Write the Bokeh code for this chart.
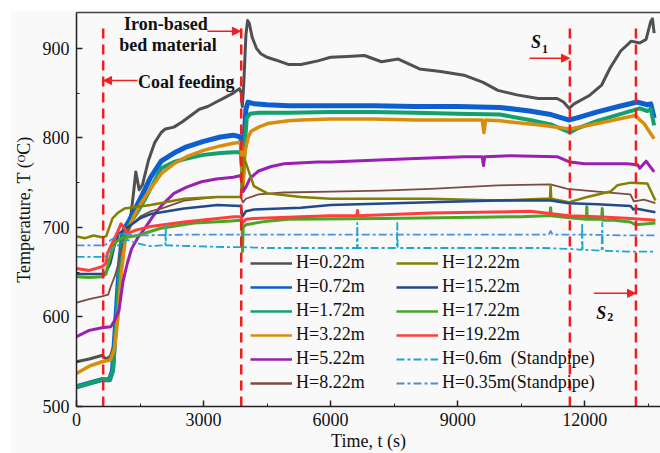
import numpy as np
from bokeh.plotting import figure
from bokeh.models import (Range1d, SingleIntervalTicker, FixedTicker, LinearAxis, Legend,
                          LegendItem, Arrow, NormalHead, Label, Spacer)
from bokeh.layouts import column, row
from bokeh.embed import file_html
from bokeh.resources import INLINE

FONT = "Liberation Serif"
BG = "#f9f9f9"

# ---------------- data ----------------
t_022 = [0, 300, 600, 700, 800, 900, 980, 1050, 1150, 1250, 1350, 1400, 1480, 1560, 1700, 1850, 2000, 2100, 2300, 2500,
         2700, 2900, 3100, 3300, 3500, 3700, 3850, 3890, 3915, 3950, 4000, 4040, 4080, 4150, 4250, 4350, 4500, 4700, 5000, 5300,
         5700, 6000, 6400, 6800, 7200, 7600, 8100, 8600, 9150, 9600, 9950, 10400, 10900, 11350, 11500, 11630, 11750, 12100, 12400, 12600,
         12850, 13100, 13300, 13450, 13560, 13600, 13640]
T_022 = [550, 553, 557, 553, 556, 570, 620, 680, 692, 700, 740, 762, 742, 748, 775, 795, 806, 810, 812, 818,
         825, 832, 835, 840, 845, 850, 855, 850, 835, 860, 915, 931, 928, 912, 900, 894, 890, 887, 882, 882,
         886, 890, 891, 892, 885, 888, 877, 874, 870, 862, 853, 848, 844, 844, 840, 833, 838, 847, 859, 878,
         897, 908, 906, 910, 930, 933, 917]

t_072 = [0, 300, 600, 780, 850, 920, 1000, 1080, 1150, 1250, 1400, 1550, 1750, 2000, 2300, 2600, 3000, 3400, 3700, 3880,
         3930, 3960, 4000, 4050, 4200, 4500, 5000, 6000, 7000, 8000, 9000, 10000, 10700, 11200, 11620, 11800, 12300, 12800, 13240, 13480,
         13560, 13640]
T_072 = [522, 526, 530, 530, 540, 590, 650, 690, 700, 708, 722, 736, 756, 774, 783, 790, 796, 801, 803, 801,
         760, 800, 832, 840, 838, 837, 836, 836, 836, 835, 835, 834, 830, 826, 820, 822, 829, 835, 840, 837,
         838, 822]

t_172 = [0, 300, 600, 780, 860, 940, 1020, 1100, 1200, 1300, 1450, 1600, 1800, 2000, 2300, 2600, 3000, 3400, 3700, 3880,
         3930, 3970, 4020, 4100, 4300, 4600, 5000, 6000, 7000, 8000, 9000, 10000, 10700, 11200, 11650, 11800, 12300, 12800, 13300, 13480,
         13560, 13640]
T_172 = [522, 526, 530, 530, 540, 595, 655, 690, 700, 707, 718, 730, 748, 766, 773, 777, 781, 783, 784, 784,
         750, 790, 822, 827, 828, 828, 828, 829, 829, 828, 827, 826, 820, 815, 806, 810, 819, 826, 833, 830,
         832, 814]

t_322 = [0, 300, 600, 800, 900, 980, 1060, 1150, 1250, 1350, 1500, 1700, 2000, 2300, 2600, 3000, 3400, 3700, 3880, 3930,
         3980, 4050, 4115, 4300, 4510, 5000, 5300, 6000, 7000, 8000, 9000, 9580, 9620, 9660, 10000, 11000, 11650, 12300, 12800, 13200,
         13300, 13400, 13640]
T_322 = [537, 545, 550, 552, 565, 600, 650, 685, 700, 712, 725, 740, 760, 771, 779, 786, 791, 794, 795, 745,
         785, 800, 807, 812, 816, 819, 820, 821, 821, 820, 820, 820, 806, 820, 819, 814, 810, 816, 821, 825,
         820, 816, 799]

t_522 = [0, 300, 600, 810, 900, 1000, 1100, 1200, 1300, 1440, 1600, 1800, 2000, 2300, 2600, 2950, 3300, 3700, 3880, 3930,
         4000, 4100, 4300, 4600, 4900, 5700, 6000, 7000, 8000, 9150, 9580, 9610, 9640, 10250, 11350, 11650, 12000, 13000, 13250, 13300,
         13450, 13640]
T_522 = [578, 585, 588, 589, 596, 607, 640, 660, 676, 688, 698, 712, 724, 738, 745, 751, 754, 756, 758, 740,
         745, 755, 763, 768, 771, 773, 773, 775, 777, 779, 779, 769, 779, 780, 779, 773, 771, 771, 770, 766,
         774, 762]

t_822 = [0, 300, 600, 750, 810, 900, 970, 1050, 1130, 1300, 1500, 1750, 2000, 2540, 3330, 3880, 3930, 4000, 4300, 4900,
         6000, 7200, 8360, 9940, 11190, 11590, 12300, 13080, 13160, 13400, 13670]
T_822 = [616, 620, 623, 625, 634, 645, 656, 675, 690, 703, 712, 718, 721, 730, 734, 734, 728, 732, 737, 739,
         740, 741, 743, 747, 748, 743, 740, 737, 729, 731, 727]

t_1222 = [0, 200, 400, 600, 700, 760, 850, 970, 1130, 1750, 2540, 3330, 3880, 3920, 3950, 4000, 4100, 4190, 4510, 5300,
          6000, 8360, 9940, 11035, 11180, 11195, 11210, 11620, 12060, 12610, 12770, 13085, 13480, 13670]
T_1222 = [690, 688, 691, 689, 690, 698, 710, 716, 721, 725, 732, 734, 734, 760, 778, 772, 758, 746, 738, 734,
          732, 732, 730, 732, 732, 747, 732, 728, 734, 740, 747, 750, 749, 730]

t_1522 = [0, 600, 700, 800, 900, 1000, 1200, 1500, 1750, 2540, 3330, 3880, 3920, 4000, 4190, 5300, 6000, 8360, 9940, 11195,
          11620, 12300, 13085, 13150, 13200, 13670]
T_1522 = [648, 648, 650, 660, 680, 693, 700, 710, 715, 721, 725, 724, 712, 718, 720, 722, 725, 728, 730, 730,
          727, 726, 724, 720, 721, 717]

t_1722 = [0, 300, 600, 700, 730, 890, 1050, 1440, 1990, 2780, 3560, 3880, 3910, 3920, 3935, 4000, 4500, 5000, 7200, 9000,
          10500, 11100, 11180, 11195, 11210, 11590, 12040, 12050, 12060, 12400, 12414, 12428, 12690, 13080, 13200, 13670]
T_1722 = [645, 644, 645, 648, 656, 682, 688, 691, 699, 705, 707, 708, 708, 673, 700, 703, 707, 709, 710, 711,
          712, 713, 713, 722, 713, 711, 709, 723, 709, 709, 721, 708, 708, 706, 703, 705]

t_1922 = [0, 300, 600, 700, 730, 970, 1050, 1120, 1200, 1400, 1750, 2540, 3720, 3880, 3920, 4000, 4190, 5300, 6000, 6620,
          6635, 6650, 8360, 10730, 11620, 12300, 13085, 13670]
T_1922 = [654, 652, 656, 660, 671, 695, 704, 700, 693, 697, 701, 706, 712, 712, 705, 709, 710, 712, 713, 713,
          719, 713, 716, 718, 713, 712, 710, 708]

t_06 = [0, 600, 700, 810, 1050, 1200, 1400, 1700, 2000, 2100, 2107, 2114, 3560, 3900, 4500, 6000, 6620, 6630, 6640, 7565,
        7575, 7585, 9000, 11000, 11650, 11930, 11940, 11950, 12400, 12414, 12428, 13000, 13670]
T_06 = [667, 667, 668, 675, 682, 686, 683, 679, 680, 680, 703, 680, 678, 678, 677, 677, 677, 705, 677, 677,
        705, 677, 677, 677, 676, 675, 705, 675, 674, 705, 674, 673, 673]

t_035 = [0, 600, 700, 810, 1050, 1440, 2780, 4000, 6000, 9000, 11150, 11195, 11240, 12000, 13000, 13670]
T_035 = [680, 680, 681, 686, 693, 691, 692, 692, 692, 692, 692, 696, 692, 692, 691, 691]

labels = ["H=0.22m", "H=0.72m", "H=1.72m", "H=3.22m", "H=5.22m", "H=8.22m",
          "H=12.22m", "H=15.22m", "H=17.22m", "H=19.22m", "H=0.6m  (Standpipe)", "H=0.35m(Standpipe)"]
times = [t_022, t_072, t_172, t_322, t_522, t_822, t_1222, t_1522, t_1722, t_1922, t_06, t_035]
temps = [T_022, T_072, T_172, T_322, T_522, T_822, T_1222, T_1522, T_1722, T_1922, T_06, T_035]

events = [630, 3890, 11650, 13210]          # red dashed markers (s)
x_ticks_interval = 3000
y_ticks_interval = 100

# ---------------- styling ----------------
colors = ["#505050", "#0d5fcf", "#11a06e", "#d88e0c", "#9a1fb2", "#7b4b40",
          "#857f00", "#224a8a", "#4aa523", "#ff3d3d", "#19a9cc", "#4a90d8"]
widths = [3, 5, 4, 3.5, 3, 1.8, 2.5, 2.5, 3, 3, 1.8, 1.8]
dashes = ["solid"] * 10 + ["8 3 3 3", "8 3 3 3"]

p = figure(width=650, height=443, x_range=Range1d(0, 13790), y_range=Range1d(500, 940),
           output_backend="svg", toolbar_location=None,
           min_border_left=66, min_border_right=0, min_border_top=2, min_border_bottom=46,
           background_fill_color=BG, border_fill_color=BG, outline_line_color=None)
p.grid.visible = False

for t, T, c, w, d in zip(times, temps, colors, widths, dashes):
    p.line(t, T, line_color=c, line_width=w, line_dash=d, line_join="round")

# legend proxies (one NaN point each, so nothing shows in the plot area)
proxies = []
for c, d in zip(colors, dashes):
    proxies.append(p.line(np.array([0.0]), np.array([np.nan]), line_color=c,
                          line_width=(2.5 if d == "solid" else 2), line_dash=d))

p.segment(x0=events, y0=[500] * len(events), x1=events, y1=[922] * len(events),
          line_color="#f01e1e", line_width=2.5, line_dash="10 6")

# axes
for ax in (p.xaxis[0], p.yaxis[0]):
    ax.axis_line_color = "#222"
    ax.axis_line_width = 1.5
    ax.major_tick_in = 6
    ax.major_tick_out = 0
    ax.minor_tick_in = 3
    ax.minor_tick_out = 0
    ax.major_tick_line_color = "#222"
    ax.major_tick_line_width = 1.5
    ax.minor_tick_line_color = "#222"
    ax.major_label_text_font = FONT
    ax.major_label_text_font_size = "18px"
    ax.major_label_text_color = "#111"
    ax.axis_label_text_font = FONT
    ax.axis_label_text_font_size = "18px"
    ax.axis_label_text_font_style = "normal"
    ax.axis_label_text_color = "#111"
p.xaxis.ticker = SingleIntervalTicker(interval=x_ticks_interval, num_minor_ticks=2)
p.yaxis.ticker = SingleIntervalTicker(interval=y_ticks_interval, num_minor_ticks=2)
p.xaxis.axis_label = "Time, t (s)"
p.yaxis.axis_label = "Temperature, T (ᴼC)"
p.xaxis.major_label_standoff = 6
p.yaxis.major_label_standoff = 7
p.xaxis.axis_label_standoff = 2
p.yaxis.axis_label_standoff = 6

top = LinearAxis(ticker=FixedTicker(ticks=[]), axis_line_color="#444", axis_line_width=1.5,
                 major_tick_line_color=None, minor_tick_line_color=None)
p.add_layout(top, "above")

# legends (two columns)
def make_legend(idx, loc):
    lg = Legend(items=[LegendItem(label=labels[i], renderers=[proxies[i]]) for i in idx],
                location=loc, orientation="vertical", padding=0, margin=0, spacing=3,
                glyph_width=42, glyph_height=20, label_height=20, label_standoff=4,
                border_line_color=None, background_fill_alpha=0,
                label_text_font=FONT, label_text_font_size="18px", label_text_color="#111")
    p.add_layout(lg)

make_legend(range(0, 6), (174, 13))
make_legend(range(6, 12), (320, 13))

# annotations
RED = "#ee2020"
def lab(x, y, text, size="18px", style="bold", align="center"):
    p.add_layout(Label(x=x, y=y, text=text, text_font=FONT, text_font_size=size, text_font_style=style,
                       text_align=align, text_baseline="middle", text_color="#111"))

lab(2110, 927.5, "Iron-based")
lab(2160, 904, "bed material")
lab(1450, 862, "Coal feeding", align="left")
lab(10852, 906.5, "S", style="bold italic")
lab(10994, 899, "1", size="12px", align="left")
lab(12393, 604.5, "S", style="bold italic")
lab(12533, 599.4, "2", size="12px", align="left")

def arrow(x0, y0, x1, y1):
    p.add_layout(Arrow(end=NormalHead(size=8, fill_color=RED, line_color=RED),
                       x_start=x0, y_start=y0, x_end=x1, y_end=y1,
                       line_color=RED, line_width=1.5))

arrow(3092, 919, 3870, 919)
arrow(1440, 864, 640, 864)
arrow(10699, 889, 11640, 889)
arrow(12217, 626.4, 13200, 626.4)

lay = column(Spacer(height=10), row(Spacer(width=10), p))
open("out.html", "w").write(file_html(lay, INLINE, "chart"))
